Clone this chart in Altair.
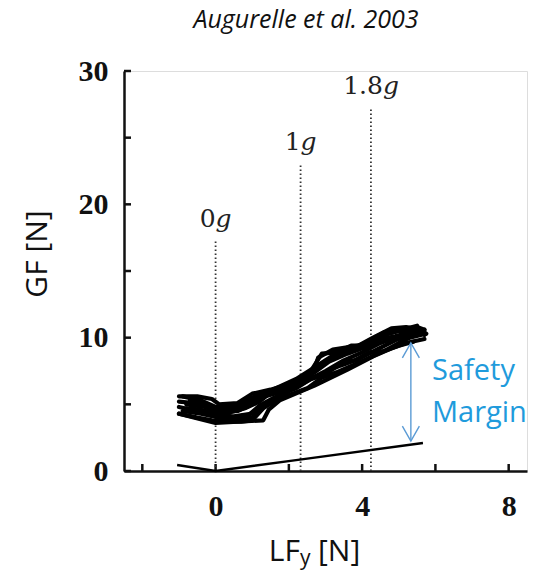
import altair as alt
import pandas as pd

# ---- data -------------------------------------------------------------
# grip force (GF) vs vertical load force (LF_y), several overlapping cycles
pass_lf = [
    [-1.0, -0.5, -0.1, 0.1, 0.6, 1.0, 1.5, 2.0, 2.4, 2.7, 2.8, 3.2, 3.9, 4.3, 4.8, 5.2, 5.6, 5.75],
    [5.7, 5.2, 4.8, 4.3, 3.6, 2.7, 1.75, 1.45, 1.3, 0.6, 0.0, -0.3, -1.0],
    [-1.0, -0.6, -0.2, 0.2, 0.7, 1.1, 1.6, 2.1, 2.6, 3.1, 3.6, 4.1, 4.6, 5.0, 5.4, 5.7],
    [5.7, 5.3, 4.9, 4.4, 3.9, 3.4, 2.9, 2.4, 1.9, 1.5, 1.0, 0.5, 0.0, -0.5, -1.0],
    [-0.9, -0.4, 0.1, 0.5, 0.9, 1.2, 1.6, 2.0, 2.5, 3.0, 3.5, 4.0, 4.5, 5.0, 5.5],
    [5.5, 5.1, 4.6, 4.1, 3.7, 3.3, 2.8, 2.3, 1.8, 1.3, 1.0, 0.6, 0.2, -0.2, -0.7],
    [-0.8, -0.3, 0.0, 0.4, 0.8, 1.2, 1.5, 1.9, 2.2, 2.6, 2.9, 3.3, 3.7, 4.0, 4.4, 4.7, 5.1, 5.5, 5.7],
    [5.6, 5.3, 5.0, 4.6, 4.2, 3.8, 3.4, 3.0, 2.6, 2.2, 1.8, 1.4, 1.0, 0.6, 0.3, 0.0, -0.4, -0.8],
    [-1.0, -0.5, -0.1, 0.3, 0.7, 1.0, 1.3, 1.7, 2.1, 2.5, 2.9, 3.3, 3.8, 4.2, 4.6, 5.0, 5.4],
    [5.3, 4.9, 4.5, 4.1, 3.7, 3.4, 3.0, 2.6, 2.2, 1.8, 1.4, 1.0, 0.7, 0.4, 0.0, -0.4, -0.9],
]
pass_gf = [
    [5.6, 5.6, 5.4, 5.0, 5.1, 5.8, 6.1, 6.5, 7.0, 7.7, 8.5, 9.1, 9.4, 10.0, 10.7, 10.8, 10.6, 10.3],
    [9.9, 9.6, 9.2, 8.6, 7.6, 6.4, 5.3, 4.6, 3.8, 3.7, 3.6, 3.8, 4.3],
    [5.2, 5.1, 4.9, 4.6, 4.8, 5.4, 5.8, 6.3, 7.2, 8.2, 8.8, 9.3, 10.2, 10.5, 10.5, 10.2],
    [10.6, 10.2, 9.8, 9.1, 8.4, 7.9, 7.3, 6.6, 5.9, 5.2, 4.3, 4.1, 4.1, 4.5, 4.8],
    [4.5, 4.3, 4.0, 3.9, 4.2, 4.9, 5.5, 6.0, 6.8, 7.5, 8.3, 8.9, 9.6, 10.1, 10.4],
    [10.9, 10.6, 10.4, 9.6, 9.2, 8.7, 7.9, 7.0, 6.2, 5.6, 5.0, 4.5, 4.4, 5.0, 5.3],
    [5.0, 4.8, 4.5, 4.4, 4.7, 5.2, 5.9, 6.2, 6.6, 7.5, 8.8, 8.9, 9.0, 9.3, 9.7, 10.3, 10.6, 10.8, 10.6],
    [10.2, 10.0, 9.6, 9.0, 8.9, 8.3, 8.1, 7.2, 6.9, 6.2, 5.8, 5.0, 4.0, 3.9, 4.2, 4.3, 4.6, 4.7],
    [4.3, 4.0, 3.8, 3.7, 3.7, 3.8, 4.7, 5.4, 5.8, 6.2, 7.0, 7.4, 8.0, 8.5, 9.0, 9.4, 9.7],
    [10.4, 10.1, 9.9, 9.4, 9.4, 9.0, 8.3, 7.6, 6.9, 6.4, 5.9, 5.5, 5.0, 4.8, 4.8, 5.3, 5.6],
]

# minimal grip force (slip limit)
slip_lf = [-1.05, 0.0, 2.3, 5.66]
slip_gf = [0.45, 0.0, 0.85, 2.1]

# gravity conditions
g_lf = [0.0, 2.32, 4.24]
g_top = [17.3, 23.1, 27.3]
g_num = ["0", "1", "1.8"]

# safety margin arrow
margin_lf = [5.33]
margin_low = [2.25]
margin_high = [9.6]

# axes
x_ticks = [-2, 0, 2, 4, 6, 8]
x_labels = [0, 4, 8]
y_ticks = [0, 5, 10, 15, 20, 25, 30]
y_labels = [0, 10, 20, 30]

# ---- tables -------------------------------------------------------------
rows = []
for p, (xs_, ys_) in enumerate(zip(pass_lf, pass_gf)):
    for i, (a, b) in enumerate(zip(xs_, ys_)):
        rows.append({"cycle": p, "idx": i, "lf": a, "gf": b})
trace_df = pd.DataFrame(rows)
slip_df = pd.DataFrame({"lf": slip_lf, "gf": slip_gf, "idx": range(len(slip_lf))})
g_df = pd.DataFrame({"lf": g_lf, "top": g_top, "num": g_num, "zero": [0] * len(g_lf)})
margin_df = pd.DataFrame({"lf": margin_lf, "low": margin_low, "high": margin_high})
xt_df = pd.DataFrame({"lf": x_ticks})
yt_df = pd.DataFrame({"gf": y_ticks})

W, H = 403, 400
xs = alt.Scale(domain=[-2.5, 8.5], nice=False, zero=False)
ys = alt.Scale(domain=[0, 30], nice=False, zero=False)

lab_font = "Liberation Serif"
g_font = "DejaVu Serif"
sans = "Open Sans"
blue_arrow = "#5B9BD5"
blue_text = "#1F9BDC"

x_axis = alt.Axis(values=x_labels, ticks=False, grid=False, domainColor="#111",
                  domainWidth=2.5, labelFont=lab_font, labelFontWeight="bold",
                  labelFontSize=30, labelColor="#111", labelPadding=20, title=None)
y_axis = alt.Axis(values=y_labels, ticks=False, grid=False, domainColor="#111",
                  domainWidth=2.5, labelFont=lab_font, labelFontWeight="bold",
                  labelFontSize=30, labelColor="#111", labelPadding=16, title=None)

# inward-pointing ticks
y_tick_marks = alt.Chart(yt_df).mark_rule(strokeWidth=2.5, color="#111").encode(
    x=alt.value(0), x2=alt.value(7),
    y=alt.Y("gf:Q", scale=ys, axis=y_axis),
)
x_tick_marks = alt.Chart(xt_df).mark_rule(strokeWidth=2.5, color="#111").encode(
    x=alt.X("lf:Q", scale=xs, axis=x_axis),
    y=alt.value(H), y2=alt.value(H - 7),
)

dotted = alt.Chart(g_df).mark_rule(strokeDash=[1.6, 2.4], strokeWidth=1.8, color="#333").encode(
    x=alt.X("lf:Q", scale=xs), y=alt.Y("zero:Q", scale=ys), y2="top:Q"
)

# "Ng" labels: upright number, italic g, centred as a pair over the line
num_w = {"0": 16, "1": 16, "1.8": 40}
g_w = 16
g_layers = []
for n in g_num:
    shift = (num_w[n] - g_w) / 2
    one = g_df[g_df["num"] == n]
    g_layers.append(
        alt.Chart(one).mark_text(font=g_font, fontSize=25, align="right", baseline="alphabetic",
                                 dx=shift, dy=-13, color="#222").encode(
            x=alt.X("lf:Q", scale=xs), y=alt.Y("top:Q", scale=ys), text="num:N")
    )
    g_layers.append(
        alt.Chart(one).mark_text(font=g_font, fontSize=25, fontStyle="italic", align="left",
                                 baseline="alphabetic", dx=shift, dy=-13, color="#222", text="g").encode(
            x=alt.X("lf:Q", scale=xs), y=alt.Y("top:Q", scale=ys))
    )

trace = alt.Chart(trace_df).mark_line(color="black", strokeWidth=4.2, strokeJoin="round",
                                      strokeCap="round").encode(
    x=alt.X("lf:Q", scale=xs), y=alt.Y("gf:Q", scale=ys), detail="cycle:N", order="idx:Q"
)
slip = alt.Chart(slip_df).mark_line(color="black", strokeWidth=2.4).encode(
    x=alt.X("lf:Q", scale=xs), y=alt.Y("gf:Q", scale=ys), order="idx:Q"
)

arrow_line = alt.Chart(margin_df).mark_rule(color=blue_arrow, strokeWidth=1.4).encode(
    x=alt.X("lf:Q", scale=xs), y=alt.Y("low:Q", scale=ys), y2="high:Q"
)
head_up = alt.Chart(margin_df).mark_point(shape="M-1,1.76L0,0L1,1.76", size=289, filled=False,
                                          color=blue_arrow, strokeWidth=1.4, opacity=1).encode(
    x=alt.X("lf:Q", scale=xs), y=alt.Y("high:Q", scale=ys)
)
head_down = alt.Chart(margin_df).mark_point(shape="M-1,-1.76L0,0L1,-1.76", size=289, filled=False,
                                            color=blue_arrow, strokeWidth=1.4, opacity=1).encode(
    x=alt.X("lf:Q", scale=xs), y=alt.Y("low:Q", scale=ys)
)

margin_text = alt.Chart(pd.DataFrame({"t": [["Safety", "Margin"]]})).mark_text(
    font=sans, fontSize=29, align="left", baseline="alphabetic", lineHeight=42, color=blue_text
).encode(x=alt.value(308), y=alt.value(309), text="t")

title = alt.Chart(pd.DataFrame({"t": ["Augurelle et al. 2003"]})).mark_text(
    font=sans, fontSize=25, fontStyle="italic", align="center", baseline="middle", color="#111"
).encode(x=alt.value(182), y=alt.value(-51), text="t:N")

y_title = alt.Chart(pd.DataFrame({"t": ["GF [N]"]})).mark_text(
    font=sans, fontSize=30, angle=270, align="center", baseline="middle", color="#111"
).encode(x=alt.value(-86), y=alt.value(183), text="t:N")

x_title_lf = alt.Chart(pd.DataFrame({"t": ["LF"]})).mark_text(
    font=sans, fontSize=30, align="right", baseline="alphabetic", color="#111"
).encode(x=alt.value(176), y=alt.value(490), text="t:N")
x_title_sub = alt.Chart(pd.DataFrame({"t": ["y"]})).mark_text(
    font=sans, fontSize=21, align="left", baseline="alphabetic", color="#111"
).encode(x=alt.value(176), y=alt.value(494), text="t:N")
x_title_unit = alt.Chart(pd.DataFrame({"t": ["[N]"]})).mark_text(
    font=sans, fontSize=30, align="left", baseline="alphabetic", color="#111"
).encode(x=alt.value(194), y=alt.value(490), text="t:N")

chart = alt.layer(
    y_tick_marks, x_tick_marks, dotted, *g_layers, slip, trace,
    arrow_line, head_up, head_down, margin_text,
    title, y_title, x_title_lf, x_title_sub, x_title_unit,
).properties(
    width=W, height=H,
    autosize=alt.AutoSizeParams(type="none"),
    padding={"left": 124, "top": 71, "right": 24, "bottom": 100},
).configure_view(stroke=None).configure(background="white")

chart.save("out.html", embed_options={"renderer": "svg", "actions": False})
